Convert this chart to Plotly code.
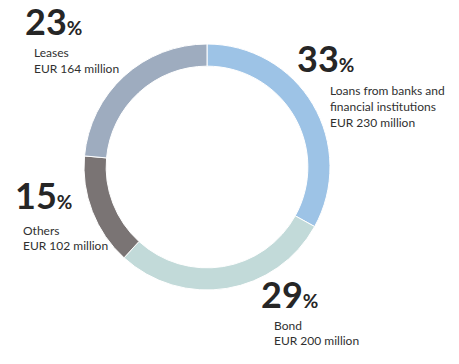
import plotly.graph_objects as go

categories = ["Loans from banks and financial institutions", "Bond", "Others", "Leases"]
label_lines = [["Loans from banks and", "financial institutions"], ["Bond"], ["Others"], ["Leases"]]
values = [230, 200, 102, 164]
pct_labels = ["33", "29", "15", "23"]
amount_labels = ["EUR 230 million", "EUR 200 million", "EUR 102 million", "EUR 164 million"]
colors = ["#9dc3e6", "#c2dad9", "#7a7474", "#9eacbf"]

W, H = 459, 364
cx, cy, R = 207, 167, 123

fig = go.Figure(go.Pie(
    labels=categories, values=values, sort=False, direction="clockwise", rotation=0,
    hole=0.82, marker=dict(colors=colors, line=dict(color="white", width=1)),
    textinfo="none", hoverinfo="label+value", showlegend=False,
    domain=dict(x=[(cx - R) / W, (cx + R) / W], y=[(H - cy - R) / H, (H - cy + R) / H]),
))

# positions in pixels: (left, centre y) of the big number, (left, first line centre y)
num_pos = [(297, 61), (261, 297.5), (15, 198.5), (25, 24.5)]
txt_pos = [(329, 91.5), (273, 326), (22, 231), (33, 53.5)]
STEP = 15.8


def px(x, y):
    return x / W, 1 - y / H


for i in range(len(values)):
    nx, ny = num_pos[i]
    ax, ay = px(nx - 2, ny - 3.5)
    fig.add_annotation(
        x=ax, y=ay, xref="paper", yref="paper", xanchor="left", yanchor="middle",
        showarrow=False, align="left", height=34, valign="middle",
        text=f"<b>{pct_labels[i]}</b><b><span style='font-size:19px'>%</span></b>",
        font=dict(family="Lato", size=36, color="#262626"),
    )
    tx, ty = txt_pos[i]
    lines = label_lines[i] + [amount_labels[i]]
    for j, line in enumerate(lines):
        lx, ly = px(tx - 1, ty - 1 + j * STEP)
        fig.add_annotation(
            x=lx, y=ly, xref="paper", yref="paper", xanchor="left", yanchor="middle",
            showarrow=False, align="left", text=line,
            font=dict(family="Lato", size=12, color="#303030"),
        )

fig.update_layout(
    width=W, height=H, margin=dict(l=0, r=0, t=0, b=0),
    paper_bgcolor="white", plot_bgcolor="white",
)

fig.write_html("out.html", config={"displayModeBar": False},
               post_script="document.body.style.margin='0';")
